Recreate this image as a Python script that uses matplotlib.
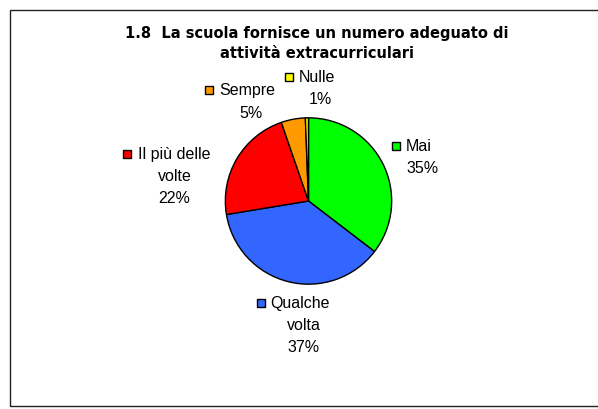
import matplotlib
matplotlib.use("Agg")
import matplotlib.pyplot as plt
from matplotlib.patches import Rectangle

plt.rcParams['font.family'] = ['Liberation Sans', 'DejaVu Sans']

categories = ['Mai', 'Qualche volta', 'Il più delle volte', 'Sempre', 'Nulle']
values = [35.4, 37.0, 22.3, 4.7, 0.6]
colors = ['#00FF00', '#3366FF', '#FF0000', '#FF9900', '#FFFF00']
label_lines = [['Mai'], ['Qualche', 'volta'], ['Il più delle', 'volte'], ['Sempre'], ['Nulle']]
title = '1.8  La scuola fornisce un numero adeguato di\nattività extracurriculari'

W, H = 598, 410
fig = plt.figure(figsize=(W / 100, H / 100), dpi=100)

# outer chart frame (right edge runs off the picture)
fig.patches.append(Rectangle((9.5 / W, (H - 407) / H), 1.0, (407 - 10.5) / H,
                             transform=fig.transFigure, fill=False,
                             edgecolor='#222222', linewidth=1.0))

# pie centre and radius in pixels
cx, cy, r = 308.5, 202, 84
ax = fig.add_axes([(cx - r) / W, (H - cy - r) / H, 2 * r / W, 2 * r / H])
ax.pie(values, colors=colors, startangle=90, counterclock=False,
       wedgeprops=dict(edgecolor='black', linewidth=1.0))
ax.set_xlim(-1.01, 1.01)
ax.set_ylim(-1.01, 1.01)
ax.axis('off')

fig.text(316.5 / W, 1 - 43.5 / H, title, ha='center', va='center',
         fontsize=10.5, fontweight='bold', linespacing=1.4,
         family='DejaVu Sans')

# label layout: key centre x, first-line y, text left x
layout = {
    'Mai': (396, 146.7, 406),
    'Qualche volta': (260.5, 304, 270.5),
    'Il più delle volte': (127, 154.5, 137.5),
    'Sempre': (209, 91, 219.5),
    'Nulle': (288.7, 78, 298.5),
}
# centre x of the following lines
pct_x = {'Mai': 422.6, 'Qualche volta': 304, 'Il più delle volte': 174.5,
         'Sempre': 250.6, 'Nulle': 320}

tot = sum(values)
fs = 11.5
step = 22
for cat, val, col, lines in zip(categories, values, colors, label_lines):
    kx, ky, tx = layout[cat]
    s = 8
    fig.patches.append(Rectangle(((kx - s / 2) / W, (H - ky - s / 2) / H), s / W, s / H,
                                 transform=fig.transFigure, facecolor=col,
                                 edgecolor='black', linewidth=1.0))
    fig.text(tx / W, 1 - ky / H, lines[0], ha='left', va='center', fontsize=fs)
    y = ky
    for ln in lines[1:]:
        y += step
        fig.text(pct_x[cat] / W, 1 - y / H, ln, ha='center', va='center', fontsize=fs)
    y += step
    fig.text(pct_x[cat] / W, 1 - y / H, '%d%%' % round(val / tot * 100),
             ha='center', va='center', fontsize=fs)

fig.savefig('out.png', dpi=100, facecolor='white')
